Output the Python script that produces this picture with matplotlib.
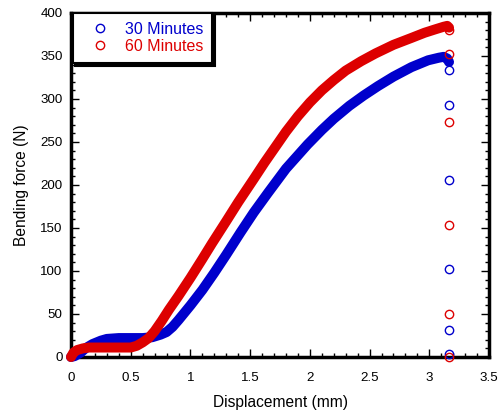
import matplotlib.pyplot as plt
from matplotlib.ticker import MultipleLocator

plt.rcParams['font.family'] = ['Liberation Sans', 'DejaVu Sans']

# loading curves, displacement (mm) vs force (N)
disp_30 = [0, 0.03, 0.08, 0.12, 0.18, 0.25, 0.3, 0.4, 0.5, 0.6, 0.68, 0.75, 0.8,
           0.85, 0.9, 1.0, 1.1, 1.2, 1.3, 1.42, 1.53, 1.65, 1.8, 1.98, 2.1, 2.2,
           2.33, 2.45, 2.57, 2.7, 2.85, 2.99, 3.08, 3.12, 3.15, 3.165]
force_30 = [0, 1, 5, 10, 15, 19, 21, 22, 22, 22, 23, 26, 29,
            35, 43, 60, 78, 98, 119, 145, 168, 191, 219, 247, 264, 277,
            292, 304, 315, 326, 337, 345, 348, 349, 347, 343]

disp_60 = [0, 0.02, 0.05, 0.1, 0.15, 0.2, 0.3, 0.4, 0.5, 0.55, 0.6, 0.65, 0.7,
           0.76, 0.82, 0.9, 1.0, 1.1, 1.18, 1.3, 1.4, 1.53, 1.62, 1.7, 1.8, 1.9,
           2.0, 2.1, 2.2, 2.3, 2.43, 2.55, 2.7, 2.85, 2.96, 3.05, 3.12, 3.15, 3.165]
force_60 = [0, 5, 8, 10, 11, 11, 11, 11, 11, 13, 17, 22, 30,
            42, 55, 71, 92, 114, 132, 158, 180, 207, 226, 242, 262, 280,
            296, 310, 322, 333, 344, 353, 363, 371, 377, 381, 384, 385, 383]

# points recorded after fracture (unloading)
drop_x = 3.165
drop_30 = [334, 293, 206, 102, 31, 4]
drop_60 = [380, 352, 273, 153, 50, 0]

blue = '#0000cc'
red = '#dd0000'

fig = plt.figure(figsize=(4.98, 4.15), dpi=100)
ax = fig.add_axes([0.1426, 0.1398, 0.8394, 0.8289])

ax.plot(disp_30, force_30, color=blue, lw=7.2, solid_capstyle='round',
        solid_joinstyle='round', clip_on=False, zorder=3)
ax.plot(disp_60, force_60, color=red, lw=7.2, solid_capstyle='round',
        solid_joinstyle='round', clip_on=False, zorder=4)

ax.plot([drop_x] * len(drop_30), drop_30, 'o', mfc='none', mec=blue, ms=6, mew=1,
        label='30 Minutes', clip_on=False, zorder=5)
ax.plot([drop_x] * len(drop_60), drop_60, 'o', mfc='none', mec=red, ms=6, mew=1,
        label='60 Minutes', clip_on=False, zorder=5)

ax.set_xlim(0, 3.5)
ax.set_ylim(0, 400)
ax.xaxis.set_minor_locator(MultipleLocator(0.1))
ax.yaxis.set_major_locator(MultipleLocator(50))
ax.yaxis.set_minor_locator(MultipleLocator(10))
ax.set_xticks([0, 0.5, 1, 1.5, 2, 2.5, 3, 3.5])
ax.set_xticklabels(['0', '0.5', '1', '1.5', '2', '2.5', '3', '3.5'])

ax.tick_params(which='both', direction='in', top=True, right=True, labelsize=9.6)
ax.tick_params(axis='x', pad=11)
ax.tick_params(axis='y', pad=6)
ax.tick_params(which='major', length=6, width=1)
ax.tick_params(which='minor', length=3, width=1)
for s in ax.spines.values():
    s.set_linewidth(2.5)

ax.set_xlabel('Displacement (mm)', fontsize=11.2, labelpad=8)
ax.set_ylabel('Bending force (N)', fontsize=11.2, labelpad=8)

leg = ax.legend(loc='upper left', bbox_to_anchor=(0.004, 1.0), borderaxespad=0,
                fontsize=11.5, fancybox=False, framealpha=1, edgecolor='black',
                handlelength=2.26, handletextpad=0.43, borderpad=0.56, labelspacing=0.12,
                shadow={'color': 'black', 'alpha': 1})
leg.get_frame().set_linewidth(1.5)
for txt, c in zip(leg.get_texts(), [blue, red]):
    txt.set_color(c)

fig.savefig('out.png', dpi=100)
